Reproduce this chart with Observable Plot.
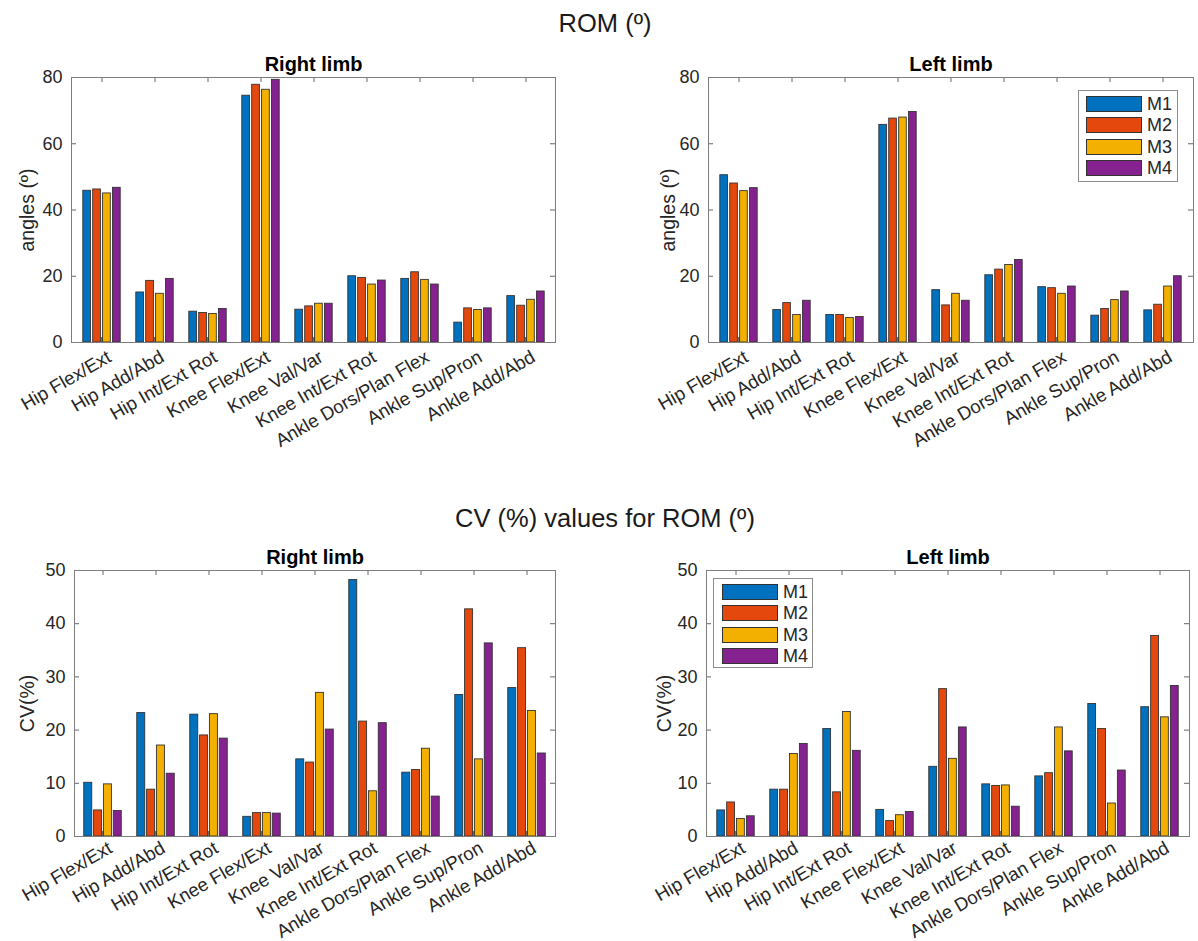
<!DOCTYPE html>
<html><head><meta charset="utf-8">
<script src="https://cdn.jsdelivr.net/npm/d3@7"></script>
<script src="https://cdn.jsdelivr.net/npm/@observablehq/plot@0.6"></script>
<style>
body{margin:0;background:#fff;}
#root{position:relative;width:1198px;height:941px;overflow:hidden;font-family:Helvetica,"Liberation Sans",Arial,sans-serif;color:#262626;}
.ttl{position:absolute;left:0;width:1210px;text-align:center;font-size:25.5px;line-height:1;color:#1a1a1a;}
.panel{position:absolute;}
.panel svg{overflow:visible;}
.legend{position:absolute;background:#fff;border:1px solid #8c8c8c;box-sizing:border-box;}
.legend .row{position:absolute;left:7px;display:flex;align-items:center;height:16px;}
.sw{width:56px;height:16px;border:1px solid #333;box-sizing:border-box;}
.lab{margin-left:5px;font-size:18px;line-height:1;color:#262626;}
</style></head>
<body><div id="root"></div>
<script>
const categories = ["Hip Flex/Ext","Hip Add/Abd","Hip Int/Ext Rot","Knee Flex/Ext","Knee Val/Var","Knee Int/Ext Rot","Ankle Dors/Plan Flex","Ankle Sup/Pron","Ankle Add/Abd"];
const seriesNames = ["M1","M2","M3","M4"];
// rows: M1..M4, columns: categories
const romRight = [
  [45.8,15.1,9.3,74.5,9.9,20.0,19.2,6.0,14.0],
  [46.2,18.6,8.9,77.8,10.9,19.5,21.2,10.3,11.1],
  [45.0,14.7,8.6,76.3,11.7,17.5,18.9,9.8,12.9],
  [46.7,19.2,10.1,79.3,11.7,18.7,17.5,10.3,15.4]
];
const romLeft = [
  [50.5,9.8,8.3,65.7,15.8,20.3,16.7,8.1,9.7],
  [48.0,11.9,8.3,67.6,11.2,22.0,16.4,10.1,11.4],
  [45.7,8.3,7.4,67.9,14.7,23.4,14.7,12.8,16.9],
  [46.6,12.6,7.7,69.6,12.6,24.9,16.9,15.4,20.0]
];
const cvRight = [
  [10.1,23.2,22.9,3.7,14.5,48.2,12.0,26.6,27.9],
  [4.9,8.8,19.0,4.4,13.9,21.6,12.5,42.7,35.4],
  [9.8,17.1,23.0,4.4,27.0,8.5,16.5,14.5,23.6],
  [4.8,11.8,18.4,4.3,20.1,21.3,7.5,36.3,15.6]
];
const cvLeft = [
  [4.9,8.8,20.2,5.0,13.1,9.8,11.3,24.9,24.3],
  [6.4,8.8,8.3,2.9,27.7,9.5,11.9,20.2,37.7],
  [3.3,15.5,23.4,4.0,14.6,9.6,20.5,6.2,22.4],
  [3.8,17.4,16.1,4.6,20.5,5.6,16.0,12.4,28.3]
];
const romTicks = [0,20,40,60,80];
const cvTicks = [0,10,20,30,40,50];
const mainTitles = ["ROM (º)", "CV (%) values for ROM (º)"];
const panelTitles = ["Right limb", "Left limb"];
const yLabels = ["angles (º)", "CV(%)"];

const colors = ["#0071BF","#E5480D","#F4B000","#862290"];
const root = document.getElementById("root");

function addTitle(text, top){
  const d = document.createElement("div");
  d.className = "ttl"; d.style.top = top + "px"; d.textContent = text;
  root.appendChild(d);
}

function makePanel(o){
  const {values, ticks, title, ylabel, left, top, width, height, ml, mr, mt, mb, labelDx, xPad} = o;
  const fw = width - ml - mr, fh = height - mt - mb;
  const step = fw / categories.length;
  const pitch = step * 0.184, barW = step * 0.158;
  const inset = (step - barW) / 2;
  const marks = [];
  marks.push(Plot.tickX(categories, {x: d => d, stroke: "#111", strokeWidth: 1.2, insetTop: fh - 5}));
  seriesNames.forEach((s, i) => {
    const rows = categories.map((c, j) => ({cat: c, value: values[i][j], series: s}));
    marks.push(Plot.barY(rows, {x: "cat", y: "value", fill: "series", stroke: "#333", strokeWidth: 0.9,
      insetLeft: inset, insetRight: inset, dx: (i - 1.5) * pitch}));
  });
  marks.push(Plot.tickX(categories, {x: d => d, stroke: "#666", insetBottom: fh - 5}));
  marks.push(Plot.tickY(ticks, {y: d => d, stroke: "#666", insetRight: fw - 5}));
  marks.push(Plot.tickY(ticks, {y: d => d, stroke: "#666", insetLeft: fw - 5}));
  marks.push(Plot.frame({stroke: "#7d7d7d"}));
  marks.push(Plot.axisY(ticks, {anchor: "left", tickSize: 0, tickPadding: 9, fontSize: 18, fill: "#262626", label: null}));
  marks.push(Plot.text([ylabel], {frameAnchor: "left", rotate: -90, dx: labelDx, textAnchor: "middle", lineAnchor: "middle",
    fontSize: 19.5, fill: "#262626"}));
  marks.push(Plot.axisX({anchor: "bottom", tickSize: 0, tickPadding: xPad, tickRotate: -30, dx: 7.5,
    fontSize: 18.6, fill: "#262626", label: null}));
  marks.push(Plot.text([title], {frameAnchor: "top", lineAnchor: "bottom", dy: -7, fontWeight: "bold", fontSize: 20, fill: "#000"}));
  const svg = Plot.plot({
    width, height, marginLeft: ml, marginRight: mr, marginTop: mt, marginBottom: mb,
    x: {domain: categories, padding: 0, axis: null},
    y: {domain: [ticks[0], ticks[ticks.length - 1]], axis: null},
    color: {domain: seriesNames, range: colors},
    style: {fontFamily: 'Helvetica, "Liberation Sans", Arial, sans-serif', background: "transparent", color: "#262626"},
    marks
  });
  const wrap = document.createElement("div");
  wrap.className = "panel"; wrap.style.left = left + "px"; wrap.style.top = top + "px";
  wrap.appendChild(svg);
  root.appendChild(wrap);
}

function addLegend(left, top, w, h, sx, sy){
  const lg = document.createElement("div");
  lg.className = "legend";
  Object.assign(lg.style, {left: left + "px", top: top + "px", width: w + "px", height: h + "px"});
  seriesNames.forEach((s, i) => {
    const r = document.createElement("div");
    r.className = "row"; r.style.left = sx + "px"; r.style.top = (sy + i * 21.3) + "px";
    const sw = document.createElement("div"); sw.className = "sw"; sw.style.background = colors[i];
    const lab = document.createElement("span"); lab.className = "lab"; lab.textContent = s;
    r.appendChild(sw); r.appendChild(lab); lg.appendChild(r);
  });
  root.appendChild(lg);
}

addTitle(mainTitles[0], 11);
addTitle(mainTitles[1], 506);

makePanel({values: romRight, ticks: romTicks, title: panelTitles[0], ylabel: yLabels[0],
  left: 0, top: 40, width: 575, height: 420, ml: 71, mr: 20, mt: 37, mb: 118, labelDx: -44, xPad: 13});
makePanel({values: romLeft, ticks: romTicks, title: panelTitles[1], ylabel: yLabels[0],
  left: 600, top: 40, width: 598, height: 420, ml: 108, mr: 5, mt: 37, mb: 118, labelDx: -40, xPad: 13});
makePanel({values: cvRight, ticks: cvTicks, title: panelTitles[0], ylabel: yLabels[1],
  left: 0, top: 533, width: 575, height: 408, ml: 74, mr: 20, mt: 37, mb: 105, labelDx: -47, xPad: 10});
makePanel({values: cvLeft, ticks: cvTicks, title: panelTitles[1], ylabel: yLabels[1],
  left: 600, top: 533, width: 598, height: 408, ml: 106, mr: 9, mt: 37, mb: 105, labelDx: -42, xPad: 10});

addLegend(1078, 90, 100, 92, 7, 5);
addLegend(713, 578, 100, 90, 8, 5);
</script>
</body></html>
